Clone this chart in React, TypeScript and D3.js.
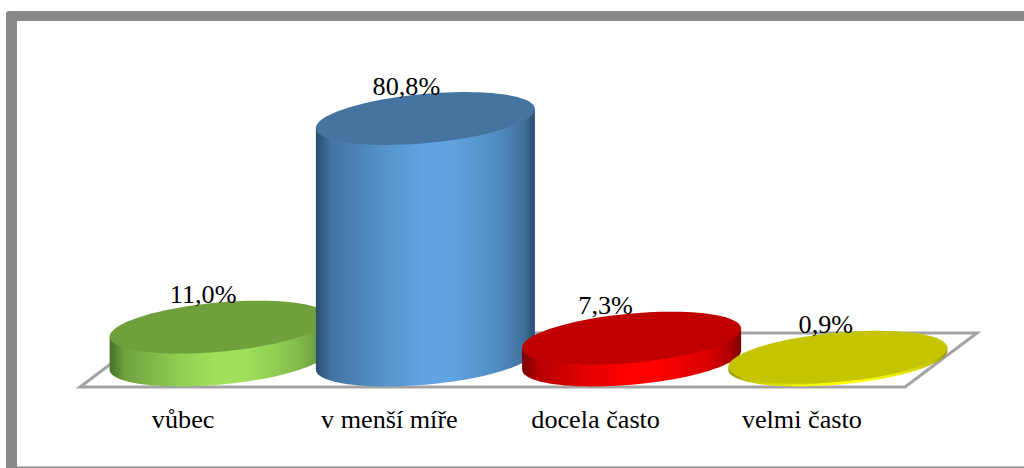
import React from 'react';
import * as d3 from 'd3';

const categories = ['vůbec', 'v menší míře', 'docela často', 'velmi často'];
const values = [11.0, 80.8, 7.3, 0.9];
const valueLabels = ['11,0%', '80,8%', '7,3%', '0,9%'];

const topColors = ['#70a03c', '#4674a0', '#c00000', '#c4c400'];
const edgeColors = ['#48702a', '#2a4d6e', '#780000', '#8a8a00'];
const midColors = ['#a0e05a', '#60a3e0', '#ff0000', '#ffff00'];

// label shift from the bar centre, the chart's labels are not quite centred
const labelShift = [-16, -19, -26, -12];

const W = 1024;
const H = 468;
const baseY = 360;
const radiusX = 109.5;
const radiusY = 24.7;
const skew = 0.087;

const x = d3.scaleBand<string>().domain(categories).range([116, 941]);
const xFront = d3.scaleBand<string>().domain(categories).range([80, 905]);
const y = d3.scaleLinear().domain([0, 80.8]).range([baseY, 118.5]);

const line = d3.line<[number, number]>();

function point(cx: number, cy: number, t: number): [number, number] {
  const dx = radiusX * Math.cos(t);
  return [cx + dx, cy + radiusY * Math.sin(t) - skew * dx];
}

function ellipsePath(cx: number, cy: number) {
  const pts = d3.range(0, 97).map(i => point(cx, cy, (i / 96) * 2 * Math.PI));
  return line(pts) + 'Z';
}

function sidePath(cx: number, top: number, base: number) {
  const front = d3.range(0, 49).map(i => point(cx, base, (i / 48) * Math.PI));
  const pts: [number, number][] = [point(cx, top, 0), ...front, point(cx, top, Math.PI)];
  return line(pts) + 'Z';
}

export default function App() {
  const floor: [number, number][] = [[80, 387], [905, 387], [977, 333], [152, 333]];
  return (
    <svg width={W} height={H} style={{ position: 'absolute', left: 0, top: 0 }}>
      <defs>
        {categories.map((c, i) => {
          const mix = d3.interpolateRgb(edgeColors[i], midColors[i]);
          return (
            <linearGradient key={c} id={'side' + i} x1="0" x2="1" y1="0" y2="0">
              <stop offset="0" stopColor={mix(0)} />
              <stop offset="0.07" stopColor={mix(0.45)} />
              <stop offset="0.3" stopColor={mix(0.8)} />
              <stop offset="0.48" stopColor={mix(1)} />
              <stop offset="0.62" stopColor={mix(1)} />
              <stop offset="0.85" stopColor={mix(0.7)} />
              <stop offset="0.95" stopColor={mix(0.4)} />
              <stop offset="1" stopColor={mix(0)} />
            </linearGradient>
          );
        })}
      </defs>
      <rect x={0} y={0} width={W} height={H} fill="#fff" />
      <path d="M6,468V14Q6,11 9,11H1024V21H17V466.5H1024V468Z" fill="#898989" />
      <path d={line(floor) + 'Z'} fill="#fff" stroke="#a3a3a3" strokeWidth={3} />
      {categories.map((c, i) => {
        const cx = x(c)! + x.bandwidth() / 2;
        const top = y(values[i]);
        return (
          <g key={c}>
            <path d={sidePath(cx, top, y(0))} fill={`url(#side${i})`} />
            <path d={ellipsePath(cx, top)} fill={topColors[i]} />
          </g>
        );
      })}
      <g fontFamily="'Liberation Serif'" fontSize={26.2} fill="#000" textAnchor="middle">
        {categories.map((c, i) => (
          <text key={c} x={x(c)! + x.bandwidth() / 2 + labelShift[i]} y={y(values[i]) - 24}>
            {valueLabels[i]}
          </text>
        ))}
        {categories.map(c => (
          <text key={c} x={xFront(c)! + xFront.bandwidth() / 2} y={428}>
            {c}
          </text>
        ))}
      </g>
    </svg>
  );
}
